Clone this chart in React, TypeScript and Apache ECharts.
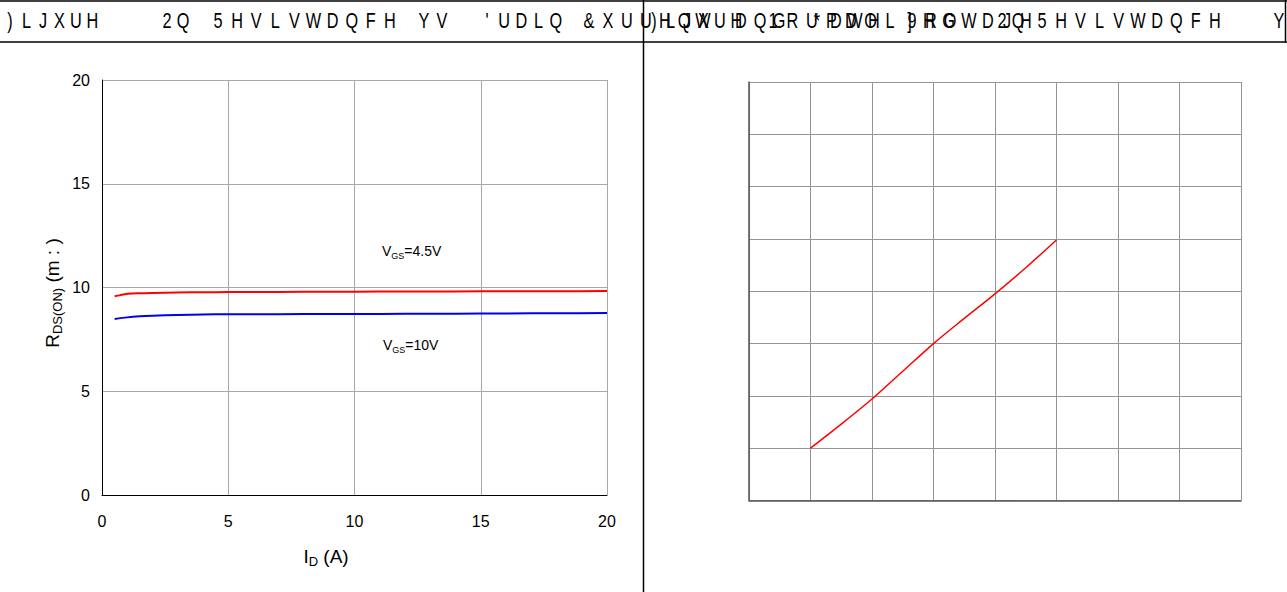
import React, { useEffect, useRef } from "react";
import * as echarts from "echarts";

// ---- data ----
const idVals45 = [0.5, 0.7, 0.9, 1.2, 1.5, 2, 3, 4, 5, 6, 8, 10, 12, 14, 16, 18, 20];
const rdsVals45 = [9.58, 9.62, 9.68, 9.71, 9.72, 9.74, 9.76, 9.77, 9.78, 9.78, 9.79, 9.8, 9.81, 9.81, 9.82, 9.82, 9.83];
const idVals10 = [0.5, 1, 1.5, 2, 3, 4, 5, 6, 8, 10, 12, 14, 16, 18, 20];
const rdsVals10 = [8.48, 8.56, 8.61, 8.64, 8.68, 8.7, 8.71, 8.71, 8.72, 8.72, 8.73, 8.74, 8.75, 8.76, 8.77];
const normX = [1, 1.5, 2, 2.5, 3, 3.5, 4, 4.5, 5];
const normY = [1, 1.46, 1.94, 2.47, 3.0, 3.48, 3.95, 4.45, 4.98];

const leftAxisMin = 0;
const leftAxisMax = 20;
const leftAxisStep = 5;
const rightAxisMin = 0;
const rightAxisMax = 8;
const rightAxisStep = 1;

// title glyph runs: [text, first glyph centre x, advance]
const leftTitleRuns: [string, number, number][] = [
  [")LJXUH", 10, 16.5],
  ["2Q", 167, 16],
  ["5HVLVWDQFH", 218, 19.1],
  ["YV", 424, 18],
  ["'UDLQ", 487, 17.2],
  ["&XUUHQW", 589, 19],
  ["DQG", 741, 19],
  ["*DWH", 817, 19],
  ["9ROWDJH", 912, 19],
];
const rightTitleRuns: [string, number, number][] = [
  [")LJXUH", 654, 16.5],
  ["1RUPDOL]HG", 773, 19.5],
  ["2Q", 1002, 16],
  ["5HVLVWDQFH", 1042, 19.2],
  ["Y", 1279, 18],
];

const FONT = "'Liberation Sans', Arial, Helvetica, sans-serif";

function glyphs(runs: [string, number, number][]) {
  const out: any[] = [];
  runs.forEach(([t, x0, adv]) => {
    for (let i = 0; i < t.length; i++) {
      out.push({
        type: "text",
        x: x0 + i * adv,
        y: 20,
        scaleX: 0.74,
        silent: true,
        style: {
          text: t[i],
          fontSize: 22,
          fontFamily: FONT,
          fill: "#000",
          textAlign: "center",
          textVerticalAlign: "middle",
          align: "center",
          verticalAlign: "middle",
        },
      });
    }
  });
  return out;
}

export default function App() {
  const ref = useRef<HTMLDivElement>(null);
  useEffect(() => {
    if (!ref.current) return;
    const chart = echarts.init(ref.current, undefined, { renderer: "svg" });

    const gridColor = "#a8a8a8";
    const rightGrid = "#959595";

    const option: any = {
      animation: false,
      backgroundColor: "#fff",
      grid: [
        { left: 102, top: 80, width: 505, height: 415, containLabel: false },
        { left: 749, top: 82, width: 492, height: 418.5, containLabel: false },
      ],
      xAxis: [
        {
          gridIndex: 0,
          type: "value",
          min: leftAxisMin,
          max: leftAxisMax,
          interval: leftAxisStep,
          axisLine: { show: true, onZero: false, lineStyle: { color: "#000", width: 1 } },
          axisTick: { show: false },
          axisLabel: { color: "#000", fontSize: 16, fontFamily: FONT, margin: 18 },
          splitLine: { show: true, lineStyle: { color: gridColor, width: 1 } },
        },
        {
          gridIndex: 1,
          type: "value",
          min: rightAxisMin,
          max: rightAxisMax,
          interval: rightAxisStep,
          axisLine: { show: true, onZero: false, lineStyle: { color: "#555", width: 1.5 } },
          axisTick: { show: false },
          axisLabel: { show: false },
          splitLine: { show: true, lineStyle: { color: rightGrid, width: 1 } },
        },
      ],
      yAxis: [
        {
          gridIndex: 0,
          type: "value",
          min: leftAxisMin,
          max: leftAxisMax,
          interval: leftAxisStep,
          axisLine: { show: true, onZero: false, lineStyle: { color: "#000", width: 1 } },
          axisTick: { show: false },
          axisLabel: { color: "#000", fontSize: 16, fontFamily: FONT, margin: 12 },
          splitLine: { show: true, lineStyle: { color: gridColor, width: 1 } },
        },
        {
          gridIndex: 1,
          type: "value",
          min: rightAxisMin,
          max: rightAxisMax,
          interval: rightAxisStep,
          axisLine: { show: true, onZero: false, lineStyle: { color: "#555", width: 1.5 } },
          axisTick: { show: false },
          axisLabel: { show: false },
          splitLine: { show: true, lineStyle: { color: rightGrid, width: 1 } },
        },
      ],
      series: [
        {
          type: "line",
          name: "VGS=4.5V",
          xAxisIndex: 0,
          yAxisIndex: 0,
          data: idVals45.map((x, i) => [x, rdsVals45[i]]),
          showSymbol: false,
          smooth: 0.3,
          lineStyle: { color: "#ff0000", width: 2 },
        },
        {
          type: "line",
          name: "VGS=10V",
          xAxisIndex: 0,
          yAxisIndex: 0,
          data: idVals10.map((x, i) => [x, rdsVals10[i]]),
          showSymbol: false,
          smooth: 0.3,
          lineStyle: { color: "#0000ee", width: 2 },
        },
        {
          type: "line",
          name: "Normalized",
          xAxisIndex: 1,
          yAxisIndex: 1,
          data: normX.map((x, i) => [x, normY[i]]),
          showSymbol: false,
          smooth: 0.3,
          lineStyle: { color: "#ff0000", width: 1.5 },
        },
      ],
      graphic: [
        // header frame
        { type: "line", silent: true, shape: { x1: 0, y1: 1, x2: 1287, y2: 1 }, style: { stroke: "#000", lineWidth: 1.5 } },
        { type: "line", silent: true, shape: { x1: 0, y1: 42, x2: 1287, y2: 42 }, style: { stroke: "#000", lineWidth: 1.5 } },
        { type: "line", silent: true, shape: { x1: 643.5, y1: 0, x2: 643.5, y2: 592 }, style: { stroke: "#000", lineWidth: 1.5 } },
        { type: "line", silent: true, shape: { x1: 1285.5, y1: 0, x2: 1285.5, y2: 43 }, style: { stroke: "#000", lineWidth: 1.5 } },
        ...glyphs(leftTitleRuns),
        ...glyphs(rightTitleRuns),
        // axis names
        {
          type: "text",
          x: 52,
          y: 293,
          rotation: Math.PI / 2,
          silent: true,
          style: {
            text: "{a|R}{b|DS(ON)}{a| (m : )}",
            align: "center",
            verticalAlign: "middle",
            textAlign: "center",
            textVerticalAlign: "middle",
            rich: {
              a: { fontSize: 19, fontFamily: FONT, fill: "#000", lineHeight: 24, verticalAlign: "middle" },
              b: { fontSize: 13, fontFamily: FONT, fill: "#000", lineHeight: 13, verticalAlign: "bottom" },
            },
          },
        },
        {
          type: "text",
          x: 326,
          y: 556,
          silent: true,
          style: {
            text: "{a|I}{b|D}{a| (A)}",
            align: "center",
            verticalAlign: "middle",
            textAlign: "center",
            textVerticalAlign: "middle",
            rich: {
              a: { fontSize: 19, fontFamily: FONT, fill: "#000", lineHeight: 24, verticalAlign: "middle" },
              b: { fontSize: 13, fontFamily: FONT, fill: "#000", lineHeight: 13, verticalAlign: "bottom" },
            },
          },
        },
        // curve labels
        {
          type: "text",
          x: 382,
          y: 251,
          silent: true,
          style: {
            text: "{a|V}{b|GS}{a|=4.5V}",
            align: "left",
            verticalAlign: "middle",
            textAlign: "left",
            textVerticalAlign: "middle",
            rich: {
              a: { fontSize: 14, fontFamily: FONT, fill: "#000", lineHeight: 18, verticalAlign: "middle" },
              b: { fontSize: 9, fontFamily: FONT, fill: "#000", lineHeight: 9, verticalAlign: "bottom" },
            },
          },
        },
        {
          type: "text",
          x: 383,
          y: 345,
          silent: true,
          style: {
            text: "{a|V}{b|GS}{a|=10V}",
            align: "left",
            verticalAlign: "middle",
            textAlign: "left",
            textVerticalAlign: "middle",
            rich: {
              a: { fontSize: 14, fontFamily: FONT, fill: "#000", lineHeight: 18, verticalAlign: "middle" },
              b: { fontSize: 9, fontFamily: FONT, fill: "#000", lineHeight: 9, verticalAlign: "bottom" },
            },
          },
        },
      ],
    };
    chart.setOption(option);
    return () => chart.dispose();
  }, []);

  return (
    <div
      ref={ref}
      style={{ position: "absolute", left: 0, top: 0, width: 1287, height: 592, background: "#fff" }}
    />
  );
}
